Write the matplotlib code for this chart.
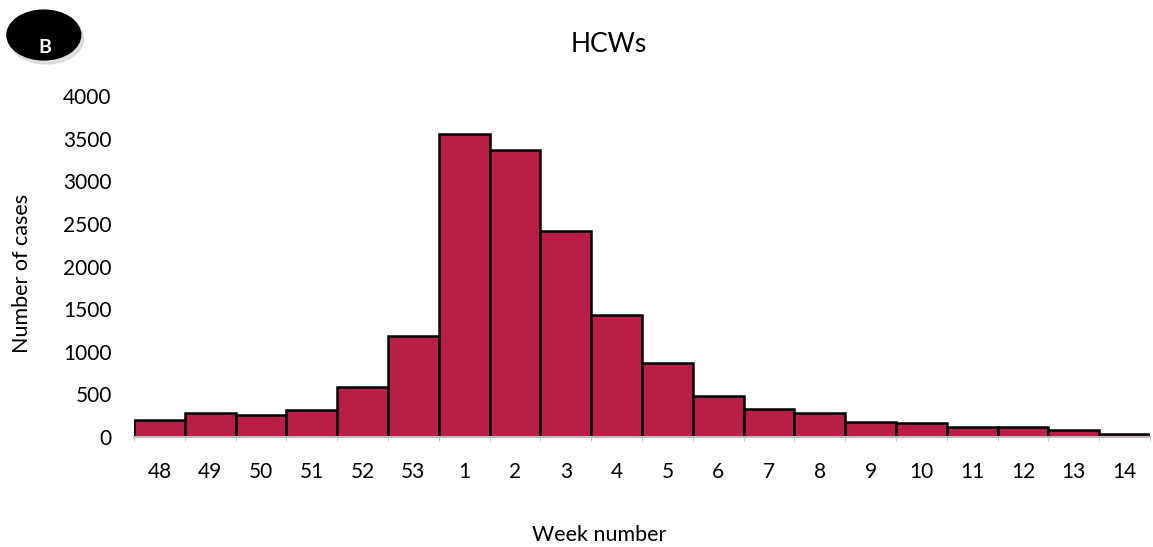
import matplotlib.pyplot as plt
import numpy as np
from matplotlib.patches import Ellipse

weeks = ["48", "49", "50", "51", "52", "53", "1", "2", "3", "4", "5", "6", "7",
         "8", "9", "10", "11", "12", "13", "14"]
cases = [200, 277, 258, 317, 590, 1185, 3560, 3368, 2420, 1430, 872, 485, 332,
         285, 172, 160, 121, 121, 82, 39]

plt.rcParams['font.family'] = ['Lato', 'DejaVu Sans']

fig = plt.figure(figsize=(11.53, 5.47), dpi=100)
ax = fig.add_axes([0.1162, 0.201, 0.8812, 0.6235])

x = np.arange(len(weeks))
ax.bar(x, cases, width=1.0, color="#B91F46", edgecolor="black", linewidth=1.8)
ax.set_xlim(-0.5, len(weeks) - 0.5)
ax.set_ylim(0, 4000)
ax.set_yticks(np.arange(0, 4001, 500))
ax.set_xticks(x)
ax.set_xticklabels(weeks)
ax.set_xticks(np.arange(-0.5, len(weeks), 1), minor=True)
ax.tick_params(axis="x", which="major", length=0, pad=18, labelsize=15)
ax.tick_params(axis="x", which="minor", length=3, color="#bbbbbb")
ax.tick_params(axis="y", length=0, pad=16, labelsize=15)

for s in ["top", "right", "left"]:
    ax.spines[s].set_visible(False)
ax.spines["bottom"].set_color("#bbbbbb")
ax.spines["bottom"].set_linewidth(1.5)

fig.text(0.528, 0.918, "HCWs", fontsize=19, ha="center", va="center")
fig.text(0.52, 0.022, "Week number", fontsize=15.5, ha="center", va="center")
fig.text(0.019, 0.5, "Number of cases", fontsize=15.5, rotation=90,
         ha="center", va="center")

# "B" badge
shadow = Ellipse((0.040, 0.929), 0.065, 0.092, transform=fig.transFigure,
                 color="#cccccc", alpha=0.6)
badge = Ellipse((0.038, 0.936), 0.064, 0.091, transform=fig.transFigure,
                color="black")
fig.patches.extend([shadow, badge])
fig.text(0.039, 0.914, "B", color="white", fontsize=14, fontweight="bold",
         ha="center", va="center")

fig.savefig("out.png", dpi=100)
